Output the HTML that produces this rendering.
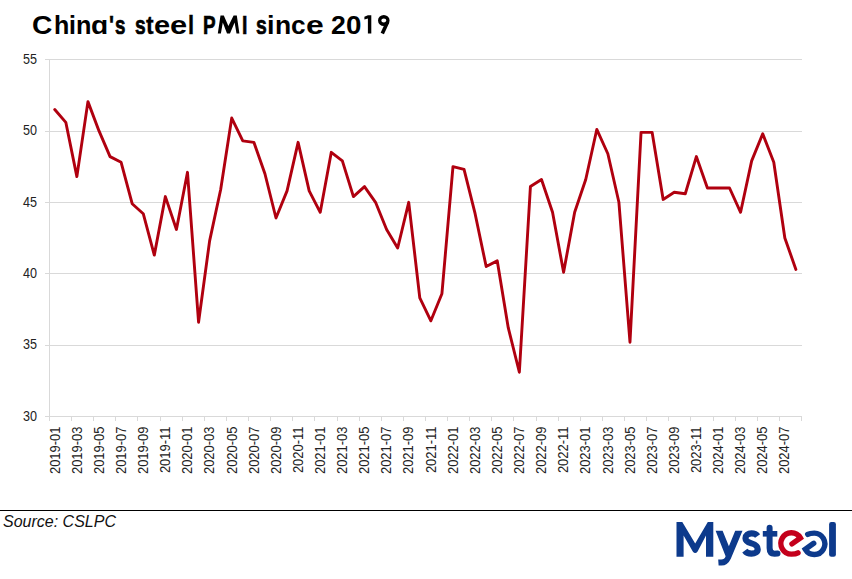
<!DOCTYPE html>
<html><head><meta charset="utf-8"><style>
html,body{margin:0;padding:0;background:#fff;}
body{width:852px;height:579px;position:relative;overflow:hidden;font-family:"Liberation Sans",sans-serif;}
.tw{position:absolute;top:9.5px;font-weight:bold;font-size:25.6px;line-height:30px;color:#000;white-space:nowrap;transform-origin:0 0;}
#src{position:absolute;left:3px;top:512px;font-style:italic;font-size:16px;line-height:20px;color:#111;white-space:nowrap;}
svg{position:absolute;left:0;top:0;}
</style></head><body>
<div class="tw" style="left:32.40px;transform:scaleX(1.0993)">C</div><div class="tw" style="left:53.50px;transform:scaleX(0.9786);-webkit-text-stroke:0.06px #000">h</div><div class="tw" style="left:69.12px;transform:scaleX(0.9680);-webkit-text-stroke:0.08px #000">i</div><div class="tw" style="left:75.98px;transform:scaleX(0.9869)">n</div><div class="tw" style="left:91.29px;transform:scaleX(1.1008)">ɑ</div><div class="tw" style="left:109.43px;transform:scaleX(0.8235);-webkit-text-stroke:0.46px #000">'</div><div class="tw" style="left:115.39px;transform:scaleX(0.7325);-webkit-text-stroke:0.70px #000">s</div><div class="tw" style="left:134.58px;transform:scaleX(0.7487);-webkit-text-stroke:0.65px #000">s</div><div class="tw" style="left:146.07px;transform:scaleX(0.8987);-webkit-text-stroke:0.26px #000">t</div><div class="tw" style="left:153.92px;transform:scaleX(1.1325)">e</div><div class="tw" style="left:170.24px;transform:scaleX(1.2053)">e</div><div class="tw" style="left:188.42px;transform:scaleX(0.8541);-webkit-text-stroke:0.38px #000">l</div><div class="tw" style="left:203.09px;transform:scaleX(0.7386);-webkit-text-stroke:0.68px #000">P</div><div class="tw" style="left:241.75px;transform:scaleX(0.7593);-webkit-text-stroke:0.63px #000">I</div><div class="tw" style="left:255.97px;transform:scaleX(0.7569);-webkit-text-stroke:0.63px #000">s</div><div class="tw" style="left:266.97px;transform:scaleX(1.0534)">i</div><div class="tw" style="left:274.50px;transform:scaleX(1.0354)">n</div><div class="tw" style="left:290.82px;transform:scaleX(1.0250)">c</div><div class="tw" style="left:305.80px;transform:scaleX(1.2457)">e</div><div class="tw" style="left:331.23px;transform:scaleX(1.0385)">2</div><div class="tw" style="left:346.45px;transform:scaleX(1.0842)">0</div>
<svg width="852" height="579" viewBox="0 0 852 579">
<g stroke="#d9d9d9" stroke-width="1" fill="none" shape-rendering="crispEdges">
<line x1="45" y1="59.5" x2="801.5" y2="59.5" />
<line x1="45" y1="131.5" x2="801.5" y2="131.5" />
<line x1="45" y1="202.5" x2="801.5" y2="202.5" />
<line x1="45" y1="273.5" x2="801.5" y2="273.5" />
<line x1="45" y1="345.5" x2="801.5" y2="345.5" />
<line x1="45" y1="416.5" x2="801.5" y2="416.5" />
<line x1="49.5" y1="59" x2="49.5" y2="421"/>
<path d="M49.5 416.5V421 M71.5 416.5V421 M93.5 416.5V421 M115.5 416.5V421 M137.5 416.5V421 M160.5 416.5V421 M182.5 416.5V421 M204.5 416.5V421 M226.5 416.5V421 M248.5 416.5V421 M270.5 416.5V421 M292.5 416.5V421 M314.5 416.5V421 M337.5 416.5V421 M359.5 416.5V421 M381.5 416.5V421 M403.5 416.5V421 M425.5 416.5V421 M447.5 416.5V421 M469.5 416.5V421 M491.5 416.5V421 M513.5 416.5V421 M536.5 416.5V421 M558.5 416.5V421 M580.5 416.5V421 M602.5 416.5V421 M624.5 416.5V421 M646.5 416.5V421 M668.5 416.5V421 M690.5 416.5V421 M713.5 416.5V421 M735.5 416.5V421 M757.5 416.5V421 M779.5 416.5V421 M801.5 416.5V421"/>
</g>
<g font-family="Liberation Sans" font-size="14" fill="#222">
<text transform="translate(37.1,63.7) scale(0.9,1)" text-anchor="end">55</text>
<text transform="translate(37.1,135.1) scale(0.9,1)" text-anchor="end">50</text>
<text transform="translate(37.1,206.5) scale(0.9,1)" text-anchor="end">45</text>
<text transform="translate(37.1,277.9) scale(0.9,1)" text-anchor="end">40</text>
<text transform="translate(37.1,349.3) scale(0.9,1)" text-anchor="end">35</text>
<text transform="translate(37.1,420.7) scale(0.9,1)" text-anchor="end">30</text>
<text transform="translate(59.5,426.6) rotate(-90) scale(0.923,1)" text-anchor="end">2019-01</text>
<text transform="translate(81.6,426.6) rotate(-90) scale(0.923,1)" text-anchor="end">2019-03</text>
<text transform="translate(103.8,426.6) rotate(-90) scale(0.923,1)" text-anchor="end">2019-05</text>
<text transform="translate(125.9,426.6) rotate(-90) scale(0.923,1)" text-anchor="end">2019-07</text>
<text transform="translate(148.0,426.6) rotate(-90) scale(0.923,1)" text-anchor="end">2019-09</text>
<text transform="translate(170.1,426.6) rotate(-90) scale(0.923,1)" text-anchor="end">2019-11</text>
<text transform="translate(192.2,426.6) rotate(-90) scale(0.923,1)" text-anchor="end">2020-01</text>
<text transform="translate(214.4,426.6) rotate(-90) scale(0.923,1)" text-anchor="end">2020-03</text>
<text transform="translate(236.5,426.6) rotate(-90) scale(0.923,1)" text-anchor="end">2020-05</text>
<text transform="translate(258.6,426.6) rotate(-90) scale(0.923,1)" text-anchor="end">2020-07</text>
<text transform="translate(280.7,426.6) rotate(-90) scale(0.923,1)" text-anchor="end">2020-09</text>
<text transform="translate(302.8,426.6) rotate(-90) scale(0.923,1)" text-anchor="end">2020-11</text>
<text transform="translate(324.9,426.6) rotate(-90) scale(0.923,1)" text-anchor="end">2021-01</text>
<text transform="translate(347.1,426.6) rotate(-90) scale(0.923,1)" text-anchor="end">2021-03</text>
<text transform="translate(369.2,426.6) rotate(-90) scale(0.923,1)" text-anchor="end">2021-05</text>
<text transform="translate(391.3,426.6) rotate(-90) scale(0.923,1)" text-anchor="end">2021-07</text>
<text transform="translate(413.4,426.6) rotate(-90) scale(0.923,1)" text-anchor="end">2021-09</text>
<text transform="translate(435.5,426.6) rotate(-90) scale(0.923,1)" text-anchor="end">2021-11</text>
<text transform="translate(457.6,426.6) rotate(-90) scale(0.923,1)" text-anchor="end">2022-01</text>
<text transform="translate(479.8,426.6) rotate(-90) scale(0.923,1)" text-anchor="end">2022-03</text>
<text transform="translate(501.9,426.6) rotate(-90) scale(0.923,1)" text-anchor="end">2022-05</text>
<text transform="translate(524.0,426.6) rotate(-90) scale(0.923,1)" text-anchor="end">2022-07</text>
<text transform="translate(546.1,426.6) rotate(-90) scale(0.923,1)" text-anchor="end">2022-09</text>
<text transform="translate(568.2,426.6) rotate(-90) scale(0.923,1)" text-anchor="end">2022-11</text>
<text transform="translate(590.4,426.6) rotate(-90) scale(0.923,1)" text-anchor="end">2023-01</text>
<text transform="translate(612.5,426.6) rotate(-90) scale(0.923,1)" text-anchor="end">2023-03</text>
<text transform="translate(634.6,426.6) rotate(-90) scale(0.923,1)" text-anchor="end">2023-05</text>
<text transform="translate(656.7,426.6) rotate(-90) scale(0.923,1)" text-anchor="end">2023-07</text>
<text transform="translate(678.8,426.6) rotate(-90) scale(0.923,1)" text-anchor="end">2023-09</text>
<text transform="translate(700.9,426.6) rotate(-90) scale(0.923,1)" text-anchor="end">2023-11</text>
<text transform="translate(723.1,426.6) rotate(-90) scale(0.923,1)" text-anchor="end">2024-01</text>
<text transform="translate(745.2,426.6) rotate(-90) scale(0.923,1)" text-anchor="end">2024-03</text>
<text transform="translate(767.3,426.6) rotate(-90) scale(0.923,1)" text-anchor="end">2024-05</text>
<text transform="translate(789.4,426.6) rotate(-90) scale(0.923,1)" text-anchor="end">2024-07</text>
</g>
<polyline points="54.75,109.48 65.81,122.33 76.87,176.60 87.94,101.63 99.00,130.90 110.06,156.60 121.12,162.32 132.18,203.73 143.25,213.72 154.31,255.14 165.37,196.59 176.43,229.43 187.49,172.31 198.56,322.25 209.62,240.86 220.68,189.45 231.74,118.05 242.80,140.90 253.87,142.32 264.93,173.74 275.99,218.01 287.05,190.88 298.11,142.32 309.18,190.88 320.24,212.30 331.30,152.32 342.36,160.89 353.42,196.59 364.49,186.59 375.55,202.30 386.61,229.43 397.67,248.00 408.73,202.30 419.80,297.98 430.86,320.82 441.92,293.69 452.98,166.60 464.04,169.46 475.11,213.72 486.17,266.56 497.23,260.85 508.29,327.96 519.35,372.23 530.42,186.59 541.48,179.45 552.54,212.30 563.60,272.27 574.66,212.30 585.73,179.45 596.79,129.47 607.85,153.75 618.91,202.30 629.97,342.24 641.04,132.33 652.10,132.33 663.16,199.44 674.22,192.30 685.28,193.73 696.35,156.60 707.41,188.02 718.47,188.02 729.53,188.02 740.59,212.30 751.66,160.89 762.72,133.76 773.78,162.32 784.84,238.00 795.90,269.42" fill="none" stroke="#b0000f" stroke-width="2.9" stroke-linejoin="round" stroke-linecap="round"/>

<path fill="#000" d="M217.8,33.5 L220.5,15.4 H223.8 L228.4,25.9 L233.6,15.4 H236.8 L239.4,33.5 H236.5 L234.6,22.4 L230,33.5 H227 L222.8,22.4 L220.9,33.5 Z"/>
<ellipse cx="383.8" cy="20.5" rx="4.15" ry="3.75" fill="none" stroke="#000" stroke-width="3.3"/>
<line x1="387.6" y1="22" x2="382.3" y2="33.6" stroke="#000" stroke-width="3.6"/>
<path fill="#000" d="M367.9,15.3 H371.3 V33.6 H367.9 V18.4 L364.4,19.6 V16.8 Z"/>
<g fill="#0d3a8c">
<path d="M676.5,556.8 V522 H682.3 L695.2,543.4 L707.8,522 H713.3 V556.8 H706 V535.5 L697.6,551.5 Q695.2,554.5 692.8,551.5 L683.6,535.5 V556.8 Z"/>
<path d="M715.6,530.7 H722.6 L728.9,546.2 L735.2,530.7 H742.5 L730.8,558.8 Q727.6,565.6 721.5,565.6 L718.6,565.6 L718.2,559.4 L721.2,559.4 Q724.6,559.4 725.6,556.2 Z"/>
<rect x="829.1" y="522" width="6.8" height="34.8" rx="2.2"/>
<rect x="762.8" y="531" width="14.5" height="5.6"/>
</g>
<g fill="none" stroke-width="5.6">
<path stroke="#0d3a8c" stroke-width="6.2" d="M757.6,536 C756.3,534.2 754,533.4 751.5,533.4 C748,533.4 745.5,535.2 745.5,538.2 C745.5,541.6 749,542.6 751.6,543.4 C754.6,544.3 757.7,545.6 757.7,549.2 C757.7,552.2 755,553.6 751.5,553.6 C748.5,553.6 746.2,552.6 744.8,550.6"/>
<path stroke="#0d3a8c" stroke-width="6" stroke-linecap="round" d="M769.6,527.8 V548 C769.6,552 771.5,553.7 774.5,553.7 L777.5,553.5"/>
<path stroke="#c4001c" stroke-width="5.4" stroke-linecap="round" d="M792.00,543.90 L800.40,537.89 A10.5 10.7 0 1 0 791.40,554.10 C794.20,554.10 796.40,553.80 798.00,552.90"/>
<path stroke="#0d3a8c" stroke-width="5.4" stroke-linecap="round" d="M813.70,543.30 L805.30,549.31 A10.5 10.7 0 1 0 814.30,533.10 C811.50,533.10 809.30,533.40 807.70,534.30"/>
</g>
<line x1="0" y1="510.5" x2="852" y2="510.5" stroke="#000" stroke-width="1" shape-rendering="crispEdges"/>
</svg>
<div id="src">Source: CSLPC</div>
</body></html>
